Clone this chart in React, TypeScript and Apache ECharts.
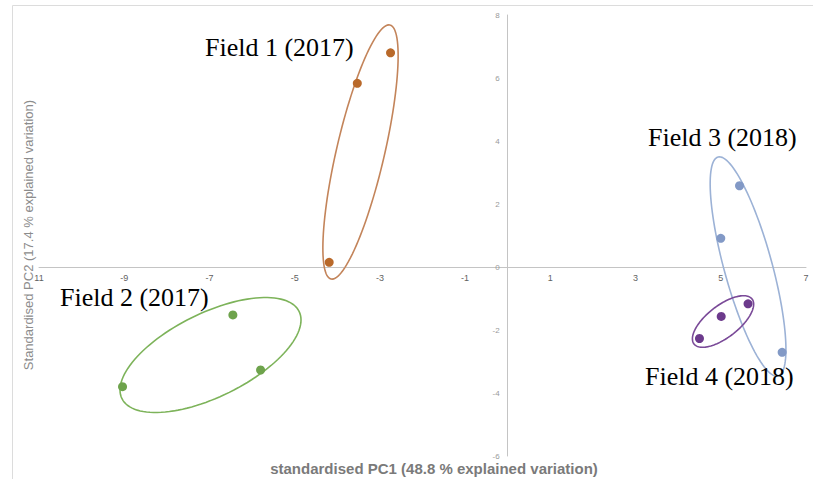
import React, { useEffect, useRef } from "react";
import * as echarts from "echarts";

// ---------- data ----------
const fieldNames = ["Field 1 (2017)", "Field 2 (2017)", "Field 3 (2018)", "Field 4 (2018)"];

const field1Points = [[-2.75, 6.8], [-3.53, 5.83], [-4.19, 0.15]];
const field2Points = [[-6.45, -1.52], [-5.8, -3.27], [-9.04, -3.8]];
const field3Points = [[5.44, 2.58], [5.0, 0.91], [6.44, -2.71]];
const field4Points = [[5.64, -1.17], [5.01, -1.57], [4.5, -2.27]];

// ellipses: centre and two conjugate half-diameters, in data units
const ellipseCentres = [[-3.455, 3.651], [-6.975, -2.794], [5.64, 0.016], [5.053, -1.73]];
const ellipseAxisA = [[0.692, 4.032], [2.124, 1.111], [-0.704, 3.476], [0.681, 0.714]];
const ellipseAxisB = [[0.549, -0.172], [0, -1.448], [0.543, 0.201], [0.23, -0.4]];

const xTickValues = [-11, -9, -7, -5, -3, -1, 1, 3, 5, 7];
const xTickLabels = ["11", "-9", "-7", "-5", "-3", "-1", "1", "3", "5", "7"];
const yTickValues = [-6, -4, -2, 0, 2, 4, 6, 8];

const xTitle = "standardised PC1 (48.8 % explained variation)";
const yTitle = "Standardised PC2 (17.4 % explained variation)";

// ---------- styles ----------
const dotColors = ["#b9692a", "#6ea34c", "#8299c6", "#6c3a8c"];
const ellipseColors = ["#c3845a", "#7db35a", "#9cb2d6", "#7a4a98"];

const GRID = { left: 39, right: 7, top: 15, bottom: 23 };
const W = 813;
const H = 479;

export default function App() {
  const ref = useRef<HTMLDivElement>(null);

  useEffect(() => {
    if (!ref.current) return;
    const chart = echarts.init(ref.current, undefined, { renderer: "svg" });
    const fieldPoints = [field1Points, field2Points, field3Points, field4Points];

    const ellipseData = ellipseCentres.map((c, i) => [
      c[0], c[1], ellipseAxisA[i][0], ellipseAxisA[i][1], ellipseAxisB[i][0], ellipseAxisB[i][1], i,
    ]);

    const labelPos = [
      [205, 47],
      [60, 297],
      [648, 137],
      [645, 376],
    ];

    // place the axes so that they cross at the origin (labels travel with them)
    const xMin = -11, xMax = 7, yMin = -6, yMax = 8;
    const plotW = W - GRID.left - GRID.right;
    const plotH = H - GRID.top - GRID.bottom;
    const yAxisOffset = -((0 - xMin) / (xMax - xMin)) * plotW;
    const xAxisOffset = -((0 - yMin) / (yMax - yMin)) * plotH;

    chart.setOption({
      animation: false,
      backgroundColor: "#ffffff",
      grid: { ...GRID, containLabel: false },
      xAxis: {
        type: "value",
        min: xMin,
        max: xMax,
        interval: 1,
        position: "bottom",
        offset: xAxisOffset,
        axisLine: { onZero: false, lineStyle: { color: "#c4c4c4", width: 1 } },
        axisTick: { show: false },
        splitLine: { show: false },
        axisLabel: {
          margin: 6,
          fontSize: 9,
          color: "#5f5f5f",
          fontFamily: "Liberation Sans",
          showMinLabel: true,
          showMaxLabel: true,
          formatter: (v: number) => {
            const r = Math.round(v);
            const idx = xTickValues.indexOf(r);
            return idx >= 0 && Math.abs(v - r) < 1e-9 ? xTickLabels[idx] : "";
          },
        },
      },
      yAxis: {
        type: "value",
        min: yMin,
        max: yMax,
        interval: 2,
        position: "left",
        offset: yAxisOffset,
        axisLine: { onZero: false, lineStyle: { color: "#c4c4c4", width: 1 } },
        axisTick: { show: false },
        splitLine: { show: false },
        axisLabel: {
          margin: 8,
          fontSize: 8,
          color: "#9a9a9a",
          fontFamily: "Liberation Sans",
          formatter: (v: number) => (yTickValues.indexOf(v) >= 0 ? String(v) : ""),
        },
      },
      series: [
        {
          type: "custom",
          name: "ellipses",
          silent: true,
          clip: false,
          z: 1,
          encode: { x: 0, y: 1 },
          data: ellipseData,
          renderItem: (params: any, api: any) => {
            const cx = api.value(0);
            const cy = api.value(1);
            const ax = api.value(2);
            const ay = api.value(3);
            const bx = api.value(4);
            const by = api.value(5);
            const idx = api.value(6);
            const pts: number[][] = [];
            const n = 120;
            for (let k = 0; k <= n; k++) {
              const t = (k / n) * Math.PI * 2;
              pts.push(
                api.coord([
                  cx + Math.cos(t) * ax + Math.sin(t) * bx,
                  cy + Math.cos(t) * ay + Math.sin(t) * by,
                ])
              );
            }
            return {
              type: "polyline",
              shape: { points: pts },
              style: { stroke: ellipseColors[idx], lineWidth: 1.6, fill: "none" },
            };
          },
        },
        ...fieldPoints.map((pts, i) => ({
          type: "scatter",
          name: fieldNames[i],
          data: pts,
          symbol: "circle",
          symbolSize: 9,
          z: 3,
          itemStyle: { color: dotColors[i], opacity: 1 },
        })),
      ],
      graphic: [
        {
          type: "line",
          shape: { x1: 12.5, y1: 5.5, x2: 813, y2: 5.5 },
          style: { stroke: "#dcdcdc", lineWidth: 1 },
          silent: true,
        },
        {
          type: "line",
          shape: { x1: 12.5, y1: 5.5, x2: 12.5, y2: 479 },
          style: { stroke: "#dcdcdc", lineWidth: 1 },
          silent: true,
        },
        ...fieldNames.map((name, i) => ({
          type: "text",
          x: labelPos[i][0],
          y: labelPos[i][1],
          silent: true,
          z: 10,
          style: {
            text: name,
            fill: "#000000",
            font: '26px "Liberation Serif"',
            align: "left",
            verticalAlign: "middle",
          },
        })),
        {
          type: "text",
          x: 434,
          y: 468,
          silent: true,
          style: {
            text: xTitle,
            fill: "#7a7a7a",
            font: 'bold 15px "Liberation Sans"',
            align: "center",
            verticalAlign: "middle",
          },
        },
        {
          type: "text",
          x: 28,
          y: 235,
          rotation: Math.PI / 2,
          silent: true,
          style: {
            text: yTitle,
            fill: "#8c8c8c",
            font: '13px "Liberation Sans"',
            align: "center",
            verticalAlign: "middle",
          },
        },
      ],
    });

    return () => {
      chart.dispose();
    };
  }, []);

  return (
    <div
      ref={ref}
      style={{ position: "absolute", left: 0, top: 0, width: W, height: H }}
    />
  );
}
